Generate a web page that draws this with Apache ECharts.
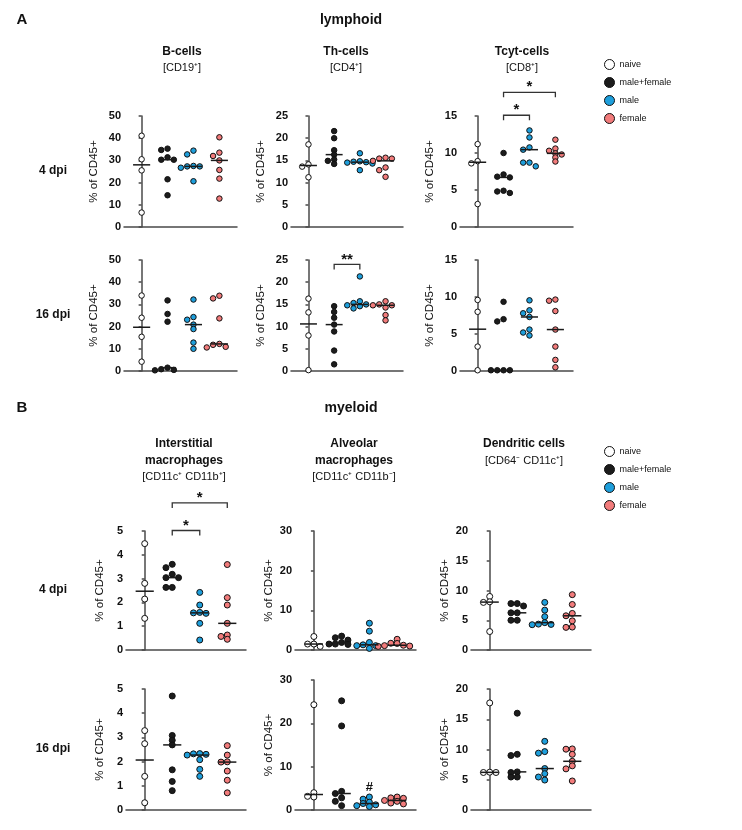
<!DOCTYPE html>
<html><head><meta charset="utf-8">
<script src="https://cdn.jsdelivr.net/npm/echarts@6/dist/echarts.min.js"></script>
<style>html,body{margin:0;padding:0;background:#fff}#c{width:742px;height:830px}</style>
</head><body><div id="c"></div><script>
// ---------- DATA ----------
const groups = ['naive', 'male+female', 'male', 'female'];

// lymphoid, 4 dpi
const bCells4 = [[41.1, 30.5, 25.5, 6.5], [35.3, 34.7, 31.4, 30.3, 30.3, 21.5, 14.3], [34.4, 32.7, 27.5, 27.3, 27.3, 26.7, 20.6], [40.4, 33.5, 32.0, 30.0, 25.7, 21.8, 12.8]];
const thCells4 = [[18.6, 14.1, 13.6, 11.2], [21.6, 20.0, 17.3, 16.3, 15.2, 14.9, 14.2], [16.6, 14.8, 14.7, 14.6, 14.5, 14.3, 12.8], [15.6, 15.4, 15.4, 14.9, 13.4, 12.8, 11.3]];
const tcyt4 = [[11.2, 8.9, 8.6, 3.1], [10.0, 7.1, 6.8, 6.7, 4.9, 4.8, 4.6], [13.05, 12.1, 10.75, 10.45, 8.7, 8.7, 8.2], [11.8, 10.6, 10.3, 9.95, 9.8, 9.4, 8.85]];
// lymphoid, 16 dpi
const bCells16 = [[34.0, 24.0, 15.4, 4.2], [31.8, 25.7, 22.2, 1.5, 0.8, 0.5, 0.3], [32.2, 24.3, 23.1, 20.9, 18.9, 12.8, 10.0], [33.9, 32.7, 23.7, 12.2, 11.8, 10.9, 10.6]];
const thCells16 = [[16.3, 13.2, 8.0, 0.2], [14.6, 13.3, 12.0, 10.45, 8.9, 4.6, 1.5], [21.3, 15.7, 15.3, 15.0, 14.8, 14.6, 14.1], [15.7, 15.0, 14.8, 14.8, 14.3, 12.6, 11.4]];
const tcyt16 = [[9.6, 8.0, 3.3, 0.1], [9.35, 7.0, 6.7, 0.1, 0.1, 0.1, 0.1], [9.55, 8.2, 7.8, 7.3, 5.6, 5.2, 4.8], [9.65, 9.5, 8.1, 5.6, 3.3, 1.5, 0.5]];
// myeloid, 4 dpi
const interst4 = [[4.47, 2.8, 2.14, 1.33], [3.6, 3.46, 3.18, 3.04, 3.04, 2.63, 2.63], [2.42, 1.89, 1.58, 1.56, 1.54, 1.12, 0.42], [3.59, 2.2, 1.89, 1.12, 0.63, 0.57, 0.45]];
const alv4 = [[3.4, 1.5, 1.5, 0.9], [3.5, 3.1, 2.5, 1.9, 1.5, 1.5, 1.4], [6.75, 4.75, 1.9, 1.3, 1.1, 1.1, 0.4], [2.7, 1.7, 1.65, 1.2, 1.1, 1.0, 0.9]];
const dc4 = [[9.0, 8.1, 8.0, 3.1], [7.8, 7.8, 7.4, 6.25, 6.25, 5.0, 5.0], [8.0, 6.7, 5.6, 4.6, 4.35, 4.3, 4.25], [9.3, 7.65, 6.15, 5.75, 4.9, 3.85, 3.8]];
// myeloid, 16 dpi
const interst16 = [[3.28, 2.74, 1.39, 0.3], [4.71, 3.08, 2.88, 2.69, 1.66, 1.18, 0.8], [2.33, 2.32, 2.3, 2.27, 2.08, 1.68, 1.39], [2.66, 2.27, 1.99, 1.98, 1.61, 1.23, 0.71]];
const alv16 = [[24.3, 4.0, 3.15, 3.0], [25.2, 19.4, 4.3, 3.8, 2.8, 2.0, 1.0], [3.0, 2.5, 1.8, 1.5, 1.2, 1.0, 0.8], [3.0, 2.8, 2.7, 2.2, 2.0, 1.6, 1.4]];
const dc16 = [[17.7, 6.25, 6.2, 6.2], [16.0, 9.2, 9.0, 6.3, 6.2, 5.45, 5.45], [11.35, 9.65, 9.4, 6.85, 6.0, 5.45, 4.95], [10.1, 10.05, 9.2, 8.05, 7.3, 6.8, 4.8]];

// significance annotations: panel index, group from/to, level (data units), label
const brackets = [
  {panel: 2, from: 1, to: 2, level: 15.1, label: '*'},
  {panel: 2, from: 1, to: 3, level: 18.2, label: '*'},
  {panel: 4, from: 1, to: 2, level: 24.0, label: '**'},
  {panel: 6, from: 1, to: 2, level: 5.02, label: '*'},
  {panel: 6, from: 1, to: 3, level: 6.18, label: '*'}
];
const marks = [{panel: 10, group: 2, level: 5.3, label: '#'}];

// ---------- LAYOUT / STYLE ----------
const FONT = "'Liberation Sans', Arial, sans-serif";
const COLORS = ['#ffffff', '#1c1c1c', '#1e9fdc', '#f27b7b'];
const X_MIN = -0.68, X_MAX = 3.68;
const panels = [
  {data: bCells4,   left: 124, top: 116, width: 113, height: 111, max: 50, interval: 10, dot: 5.5, gap: 24},
  {data: thCells4,  left: 291, top: 116, width: 112, height: 111, max: 25, interval: 5, dot: 5.5, gap: 24},
  {data: tcyt4,     left: 460, top: 116, width: 113, height: 111, max: 15, interval: 5, dot: 5.5, gap: 24},
  {data: bCells16,  left: 124, top: 260, width: 113, height: 111, max: 50, interval: 10, dot: 5.5, gap: 24},
  {data: thCells16, left: 291, top: 260, width: 112, height: 111, max: 25, interval: 5, dot: 5.5, gap: 24},
  {data: tcyt16,    left: 460, top: 260, width: 113, height: 111, max: 15, interval: 5, dot: 5.5, gap: 24},
  {data: interst4,  left: 126, top: 531, width: 120, height: 119, max: 5, interval: 1, dot: 6, gap: 20},
  {data: alv4,      left: 295, top: 531, width: 121, height: 119, max: 30, interval: 10, dot: 6, gap: 20},
  {data: dc4,       left: 471, top: 531, width: 120, height: 119, max: 20, interval: 5, dot: 6, gap: 20},
  {data: interst16, left: 126, top: 689, width: 120, height: 121, max: 5, interval: 1, dot: 6, gap: 20},
  {data: alv16,     left: 295, top: 680, width: 121, height: 130, max: 30, interval: 10, dot: 6, gap: 20},
  {data: dc16,      left: 471, top: 689, width: 120, height: 121, max: 20, interval: 5, dot: 6, gap: 20}
];

// beeswarm-like arrangement computed from the values
function swarm(values, pxPerY, pxPerX, slotPx, thrPx) {
  const idx = values.map((v, i) => i).sort((a, b) => values[b] - values[a]);
  const placed = [];
  const out = new Array(values.length);
  const order = [0, -1, 1, -2, 2, -3, 3, -4, 4];
  idx.forEach(i => {
    const y = values[i] * pxPerY;
    for (const s of order) {
      const hit = placed.some(p => p.s === s && Math.abs(p.y - y) < thrPx);
      if (!hit) { placed.push({s, y}); out[i] = s * slotPx / pxPerX; break; }
    }
  });
  return out;
}
function median(a) {
  const s = a.slice().sort((x, y) => x - y), n = s.length;
  return n % 2 ? s[(n - 1) / 2] : (s[n / 2 - 1] + s[n / 2]) / 2;
}

const grid = [], xAxis = [], yAxis = [], series = [];
panels.forEach((p, k) => {
  grid.push({left: p.left, top: p.top, width: p.width, height: p.height});
  xAxis.push({type: 'value', gridIndex: k, min: X_MIN, max: X_MAX, axisLine: {show: true, onZero: false, lineStyle: {color: '#4a4a4a', width: 1.5}},
    axisTick: {show: false}, axisLabel: {show: false}, splitLine: {show: false}});
  yAxis.push({type: 'value', gridIndex: k, min: 0, max: p.max, interval: p.interval,
    axisLine: {show: true, lineStyle: {color: '#4a4a4a', width: 1.5}},
    axisTick: {show: true, length: 3, lineStyle: {color: '#4a4a4a', width: 1.5}},
    axisLabel: {fontFamily: FONT, fontSize: 11, fontWeight: 'bold', color: '#111', margin: 3},
    splitLine: {show: false},
    name: '% of CD45+', nameLocation: 'middle', nameGap: p.gap,
    nameTextStyle: {fontFamily: FONT, fontSize: 11.5, color: '#111'}});
  const pxPerY = p.height / p.max, pxPerX = p.width / (X_MAX - X_MIN);
  p.data.forEach((vals, g) => {
    const off = swarm(vals, pxPerY, pxPerX, 6.3, 4);
    series.push({type: 'scatter', name: groups[g], xAxisIndex: k, yAxisIndex: k, symbol: 'circle', symbolSize: p.dot,
      itemStyle: {color: COLORS[g], borderColor: '#111', borderWidth: 1, opacity: 1},
      data: vals.map((v, i) => [g + off[i], v]), z: 3, silent: true});
  });
  series.push({type: 'custom', xAxisIndex: k, yAxisIndex: k, z: 4, silent: true,
    data: p.data.map((vals, g) => [g, median(vals)]),
    renderItem: (params, api) => {
      const a = api.coord([api.value(0) - 0.33, api.value(1)]);
      const b = api.coord([api.value(0) + 0.33, api.value(1)]);
      return {type: 'line', shape: {x1: a[0], y1: a[1], x2: b[0], y2: b[1]}, style: {stroke: '#1a1a1a', lineWidth: 1.5}};
    }});
});
brackets.forEach(b => {
  series.push({type: 'custom', xAxisIndex: b.panel, yAxisIndex: b.panel, z: 5, clip: false, silent: true,
    data: [[b.from, b.to, b.level]],
    renderItem: (params, api) => {
      const a = api.coord([api.value(0), api.value(2)]);
      const c = api.coord([api.value(1), api.value(2)]);
      return {type: 'group', children: [
        {type: 'polyline', shape: {points: [[a[0], a[1] + 5], [a[0], a[1]], [c[0], c[1]], [c[0], c[1] + 5]]}, style: {stroke: '#333', lineWidth: 1.3, fill: null}},
        {type: 'text', x: (a[0] + c[0]) / 2, y: a[1] - 5, style: {text: b.label, font: 'bold 15px ' + FONT, fill: '#111', align: 'center', verticalAlign: 'middle'}}
      ]};
    }});
});
marks.forEach(m => {
  series.push({type: 'custom', xAxisIndex: m.panel, yAxisIndex: m.panel, z: 5, clip: false, silent: true,
    data: [[m.group, m.level]],
    renderItem: (params, api) => {
      const a = api.coord([api.value(0), api.value(1)]);
      return {type: 'text', x: a[0], y: a[1], style: {text: m.label, font: 'bold 13px ' + FONT, fill: '#111', align: 'center', verticalAlign: 'middle'}};
    }});
});

function txt(text, x, y, size, bold, align) {
  return {type: 'text', x, y, silent: true, style: {text, font: (bold ? 'bold ' : '') + size + 'px ' + FONT, fill: '#111', align: align || 'center', verticalAlign: 'middle'}};
}
const graphic = [
  txt('A', 22, 20, 15, true), txt('lymphoid', 351, 20, 14, true),
  txt('B-cells', 182, 52, 12, true), txt('[CD19⁺]', 182, 68, 11, false),
  txt('Th-cells', 346, 52, 12, true), txt('[CD4⁺]', 346, 68, 11, false),
  txt('Tcyt-cells', 522, 52, 12, true), txt('[CD8⁺]', 522, 68, 11, false),
  txt('4 dpi', 53, 171, 12, true), txt('16 dpi', 53, 315, 12, true),
  txt('B', 22, 408, 15, true), txt('myeloid', 351, 408, 14, true),
  txt('Interstitial', 184, 444, 12, true), txt('macrophages', 184, 461, 12, true), txt('[CD11c⁺ CD11b⁺]', 184, 477, 11, false),
  txt('Alveolar', 354, 444, 12, true), txt('macrophages', 354, 461, 12, true), txt('[CD11c⁺ CD11b⁻]', 354, 477, 11, false),
  txt('Dendritic cells', 524, 444, 12, true), txt('[CD64⁻ CD11c⁺]', 524, 461, 11, false),
  txt('4 dpi', 53, 590, 12, true), txt('16 dpi', 53, 749, 12, true)
];
function legendAt(top) {
  return {orient: 'vertical', left: 599, top, itemWidth: 10, itemHeight: 10, itemGap: 7, icon: 'circle', selectedMode: false,
    textStyle: {fontFamily: FONT, fontSize: 9, color: '#111'},
    data: groups.map((g, i) => ({name: g, itemStyle: {color: COLORS[i], borderColor: '#111', borderWidth: 1}}))};
}
const chart = echarts.init(document.getElementById('c'), null, {renderer: 'canvas'});
chart.setOption({animation: false, backgroundColor: '#fff', grid, xAxis, yAxis, series, graphic,
  legend: [legendAt(54), legendAt(441)]});
</script></body></html>
